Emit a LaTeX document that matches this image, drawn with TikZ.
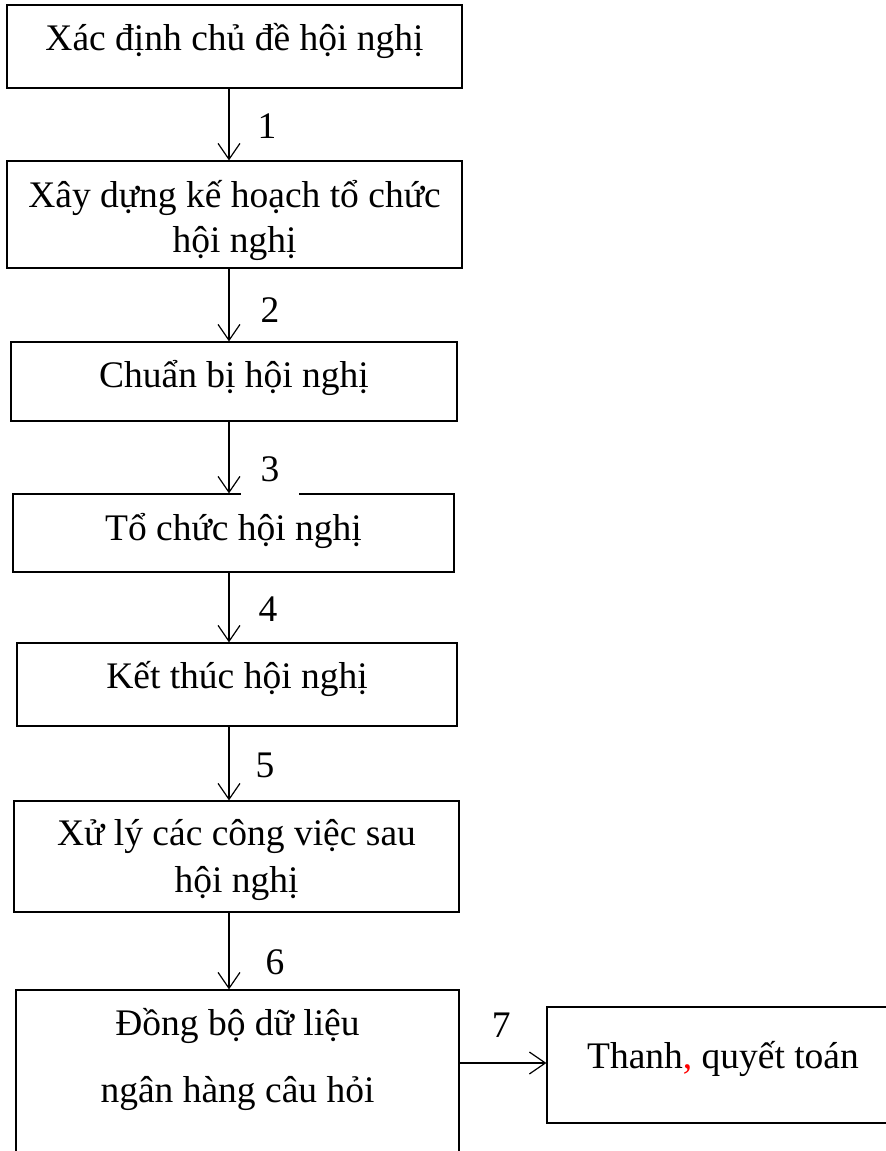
\documentclass[tikz,border=0pt]{standalone}
\usepackage{fontspec}
\setmainfont{Liberation Serif}
\usetikzlibrary{arrows.meta}

\begin{document}
\begin{tikzpicture}[x=1pt,y=-1pt,>={Straight Barb[length=16pt,width=22pt]},
	every node/.style={font=\fontsize{37.5}{43}\selectfont},
	box/.style={draw, line width=1.2pt, inner sep=0pt, align=center, text height=30pt, text depth=23pt},
	num/.style={anchor=base},
	flow/.style={->, line width=1.2pt}]
		\useasboundingbox (0,0) rectangle (886,1151);
		%Khoi
		\node [box, minimum width=455pt, minimum height=83pt] (topic) at (234.5,46.5) {Xác định chủ đề hội nghị};
		\node [box, minimum width=455pt, minimum height=107pt, text height=80pt, text depth=5pt] (plan) at (234.5,214.5) {Xây dựng kế hoạch tổ chức\\[2pt]hội nghị};
		\node [box, minimum width=446pt, minimum height=79pt, text depth=19pt] (prepare) at (234,381.5) {Chuẩn bị hội nghị};
		\node [box, minimum width=441pt, minimum height=78pt, text depth=16pt] (hold) at (233.5,533) {Tổ chức hội nghị};
		\node [box, minimum width=440pt, minimum height=83pt] (close) at (237,684.5) {Kết thúc hội nghị};
		\node [box, minimum width=445pt, minimum height=111pt, text height=80pt, text depth=9pt] (followup) at (236.5,856.5) {Xử lý các công việc sau\\[4pt]hội nghị};
		\node [box, minimum width=443pt, minimum height=180pt, text height=80pt, text depth=36pt] (sync) at (237.5,1080) {Đồng bộ dữ liệu\\[24pt]ngân hàng câu hỏi};
		\node [box, minimum width=352pt, minimum height=116pt, text depth=24pt] (settle) at (723,1065) {Thanh{\color{red},} quyết toán};
		%Mui ten
		\coordinate (axis) at (229,0);
		\coordinate (link) at (0,1063);
		\draw [flow] (topic.south -| axis) -- (plan.north -| axis) node [num, pos=0.69, xshift=38pt] {1};
		\draw [flow] (plan.south -| axis) -- (prepare.north -| axis) node [num, pos=0.74, xshift=41pt] {2};
		\draw [flow] (prepare.south -| axis) -- (hold.north -| axis) node [num, pos=0.84, xshift=41pt, fill=white, minimum width=58pt, text depth=14pt] {3};
		\draw [flow] (hold.south -| axis) -- (close.north -| axis) node [num, pos=0.7, xshift=39pt] {4};
		\draw [flow] (close.south -| axis) -- (followup.north -| axis) node [num, pos=0.69, xshift=36pt] {5};
		\draw [flow] (followup.south -| axis) -- (sync.north -| axis) node [num, pos=0.81, xshift=46pt] {6};
		\draw [flow] (sync.east |- link) -- (settle.west |- link) node [num, pos=0.48, yshift=26pt] {7};
	\end{tikzpicture}
\end{document}
